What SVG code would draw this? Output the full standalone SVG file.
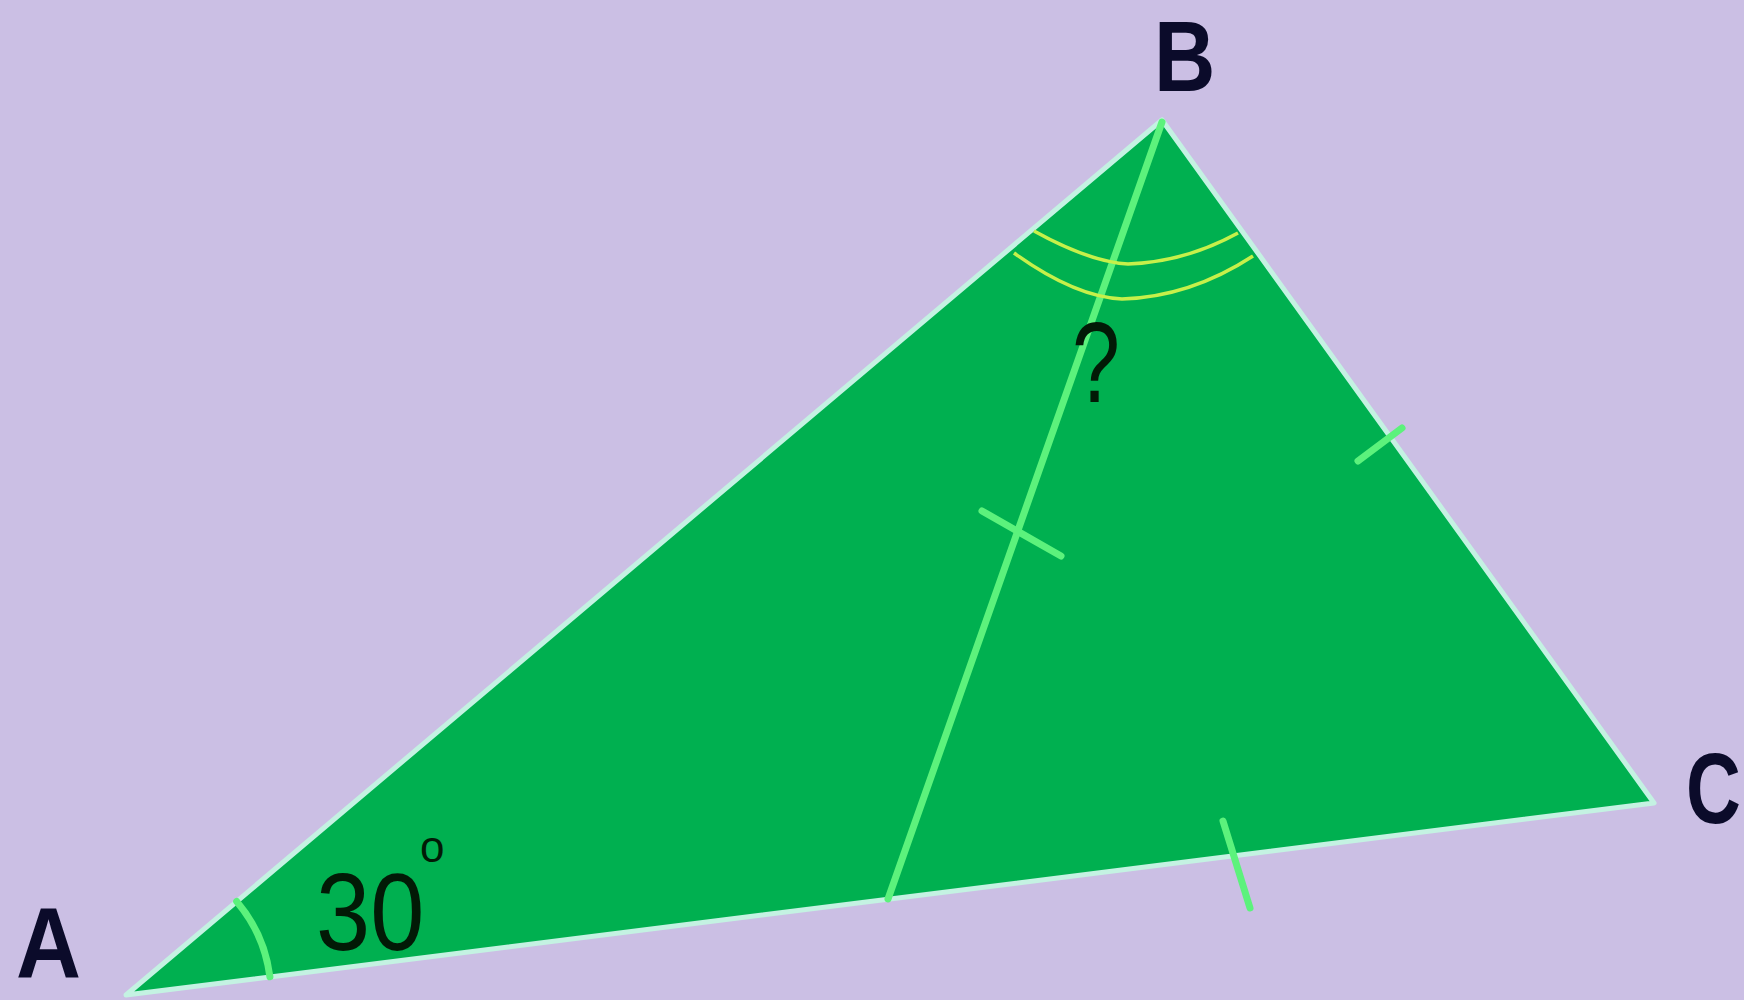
<svg xmlns="http://www.w3.org/2000/svg" width="1744" height="1000" viewBox="0 0 1744 1000">
<style>
.lbl{font-family:"Liberation Sans",Arial,sans-serif;font-weight:bold;font-size:100px;fill:#0b0b2a}
.num{font-family:"Liberation Sans",Arial,sans-serif;fill:#021a06}
.mark{fill:none;stroke:#5cf27c;stroke-width:7;stroke-linecap:round}
.yarc{fill:none;stroke:#c6f04a;stroke-width:3.5}
</style>
<rect width="1744" height="1000" fill="#cbbfe4"/>
<g id="triangle">
<polygon points="126,995 1162,120 1654,803" fill="#00b050" stroke="#c4f2e2" stroke-width="5" stroke-linejoin="round"/>
</g>
<g id="connectors">
<line id="median" class="mark" x1="1162" y1="122" x2="888" y2="899"/>
<line id="tick-median" class="mark" x1="982" y1="511" x2="1061" y2="556"/>
<line id="tick-bc" class="mark" x1="1358" y1="461" x2="1402" y2="428"/>
<line id="tick-ac" class="mark" x1="1223" y1="821" x2="1250" y2="908"/>
<path id="arc-a" class="mark" d="M236.7,901.4 A145,145 0 0 1 269.9,976.8" stroke-width="5"/>
<path id="arc-b1" class="yarc" d="M1034,231 Q1090,262 1128,264 Q1185,262 1238,233"/>
<path id="arc-b2" class="yarc" d="M1014,253 Q1075,297 1122,299 Q1190,297 1253,256"/>
</g>
<g id="label-A"><text class="lbl" transform="translate(16,978) scale(0.9,1)">A</text></g>
<g id="label-B"><text class="lbl" transform="translate(1154,91) scale(0.85,1)">B</text></g>
<g id="label-C"><text class="lbl" transform="translate(1686,823) scale(0.76,1)">C</text></g>
<g id="label-30"><text class="num" style="font-size:110px" transform="translate(316,950) scale(0.885,1)">30</text><text class="num" style="font-size:44px" x="420" y="862">o</text></g>
<g id="label-q"><text class="num" style="font-size:115px" transform="translate(1072,402) scale(0.75,1)">?</text></g>
</svg>
